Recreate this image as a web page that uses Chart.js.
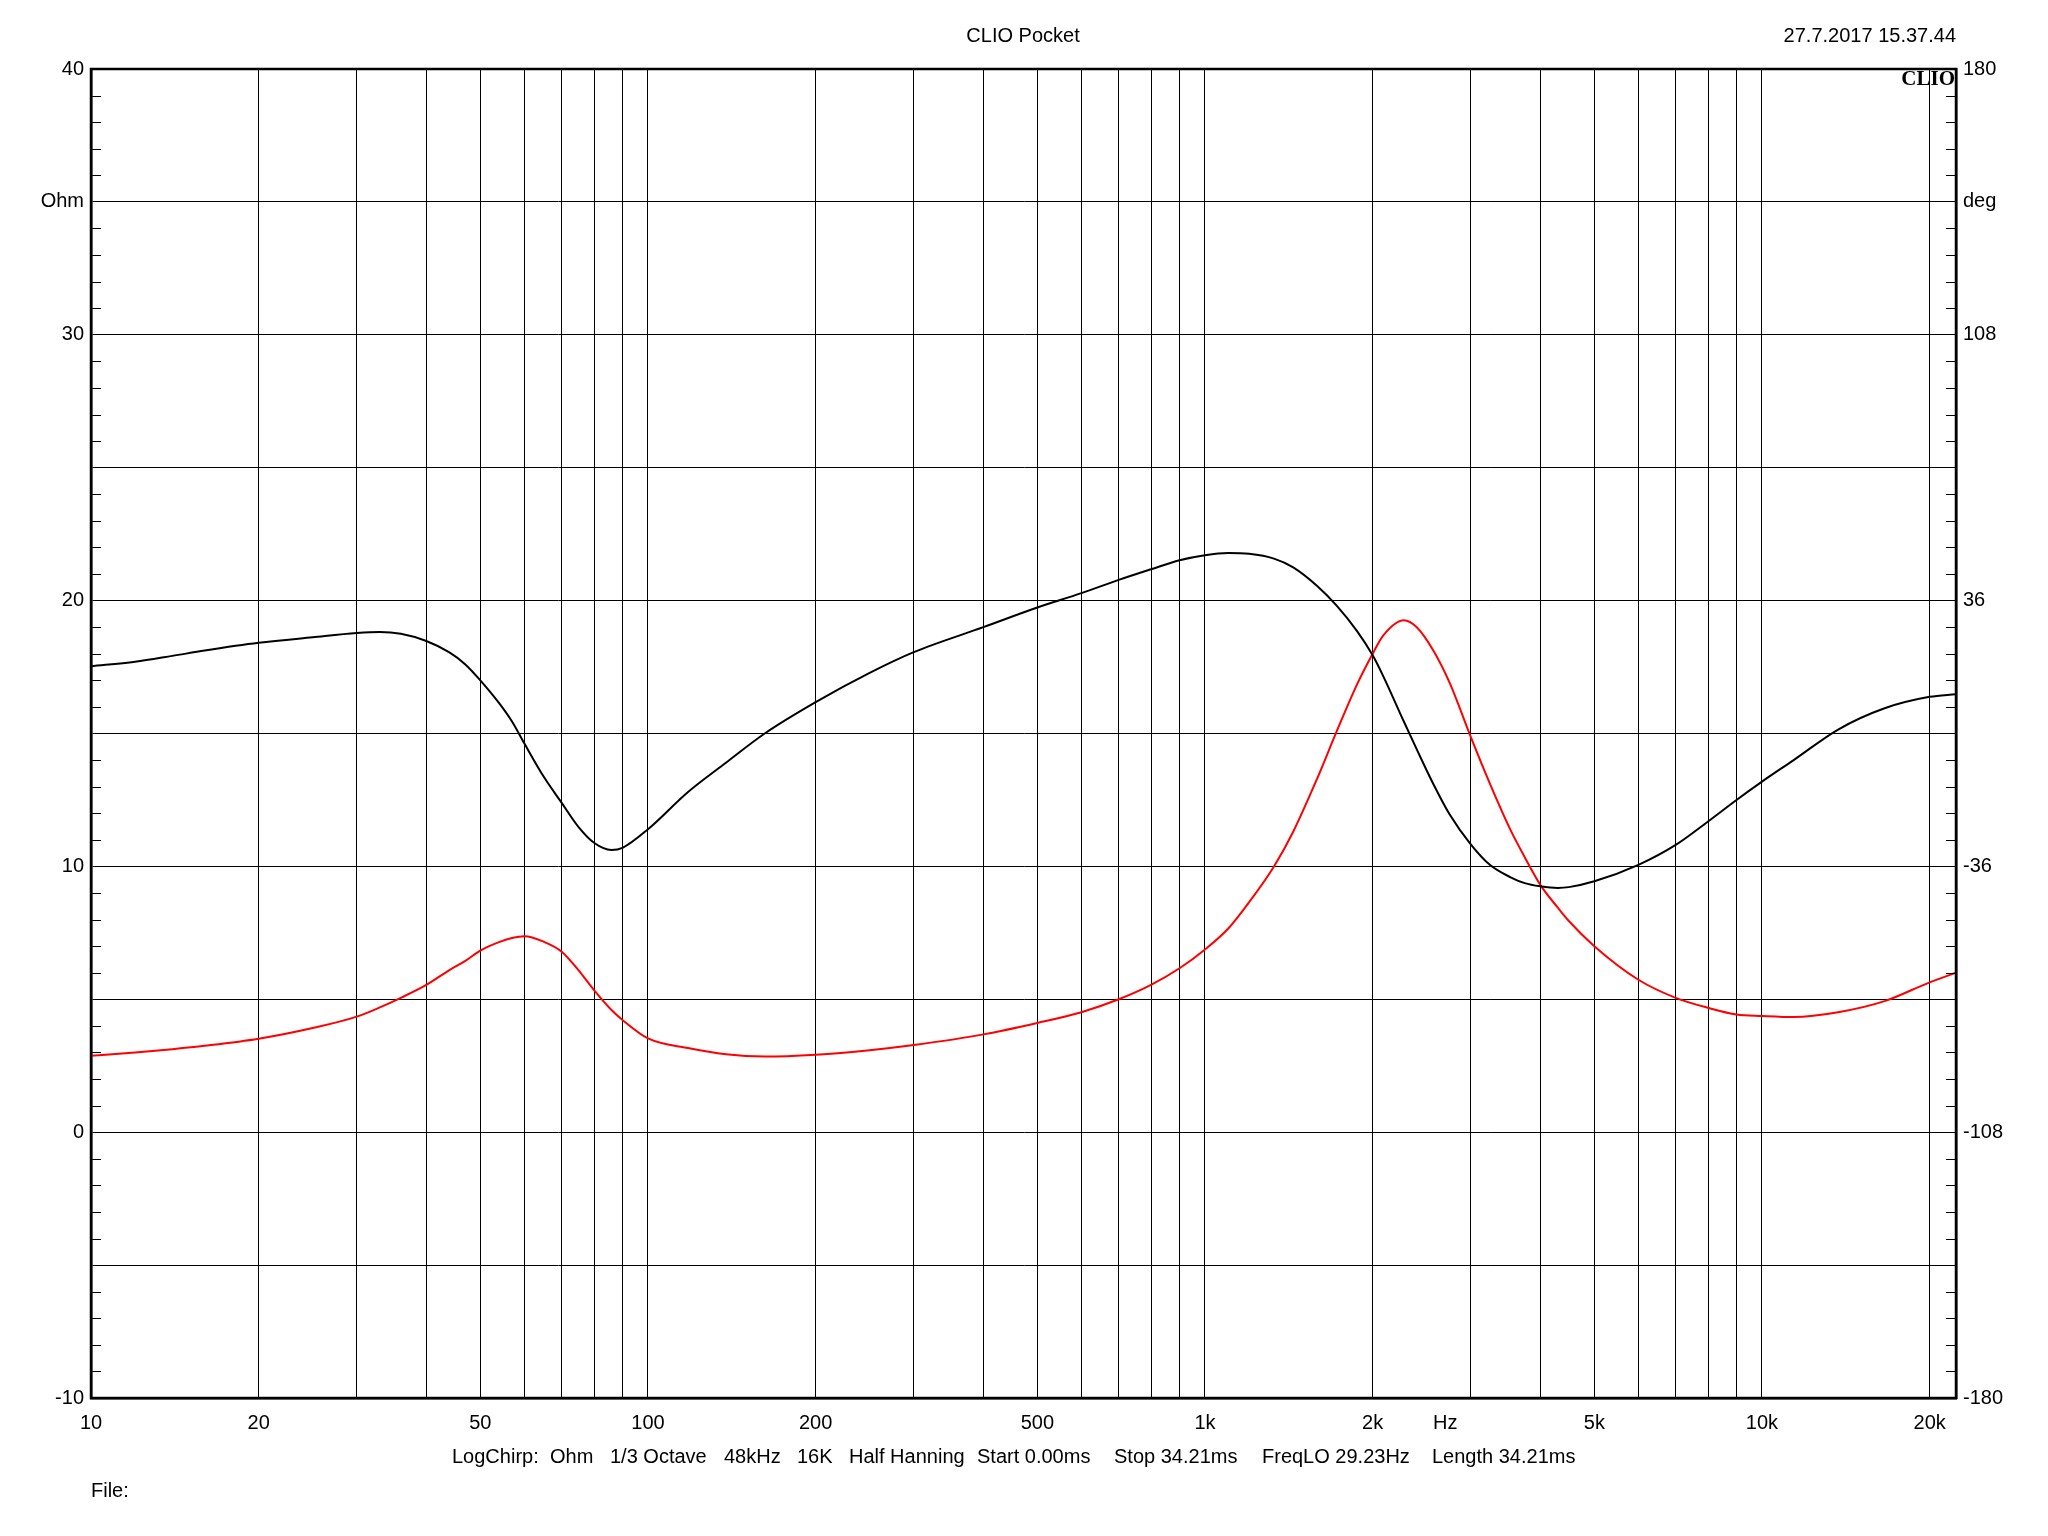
<!DOCTYPE html>
<html>
<head>
<meta charset="utf-8">
<script src="https://cdn.jsdelivr.net/npm/chart.js@4.4.1/dist/chart.umd.min.js"></script>
<style>
  body { margin: 0; background: #fff; }
  #wrap { width: 2048px; height: 1536px; position: relative; }
</style>
</head>
<body>
<div id="wrap"><canvas id="clioChart"></canvas></div>
<script>
// frequency points (Hz)
const freqs = [10, 12, 14, 16, 20, 25, 30, 33, 36, 40, 44, 47, 50, 54, 57, 60, 65, 70, 75, 80, 86, 90,
  100, 118, 138, 162, 200, 250, 300, 400, 500, 600, 700, 800, 900,
  1000, 1100, 1200, 1330, 1440, 1590, 1725, 1875, 2000, 2090, 2275, 2400, 2570, 2750, 3000, 3250,
  3530, 3750, 4000, 4300, 4500, 5000, 6000, 7000, 8000, 9000, 10000, 11400, 13700, 16600, 20000, 22300];

// black curve, Ohm (left axis)
const impedance = [17.53, 17.70, 17.92, 18.12, 18.41, 18.62, 18.78, 18.82, 18.75, 18.48, 18.05, 17.60,
  17.0, 16.15, 15.45, 14.62, 13.37, 12.39, 11.49, 10.89, 10.62, 10.70,
  11.40, 12.80, 13.90, 15.0, 16.18, 17.28, 18.06, 19.0, 19.74, 20.28, 20.78, 21.18, 21.52,
  21.71, 21.79, 21.76, 21.58, 21.25, 20.55, 19.8, 18.85, 17.94, 17.15, 15.45, 14.4, 13.1, 11.95, 10.83, 10.05,
  9.6, 9.37, 9.25, 9.19, 9.22, 9.44, 10.06, 10.81, 11.69, 12.50, 13.19, 14.0, 15.15, 15.95, 16.38, 16.48];

// red curve, deg (right axis)
const phase = [-87.3, -86.4, -85.5, -84.6, -82.7, -79.8, -76.7, -74.2, -71.6, -68.1, -64.1, -61.6,
  -58.8, -56.5, -55.4, -54.9, -56.4, -59.1, -64.1, -69.5, -74.9, -77.6,
  -82.6, -85.2, -86.9, -87.5, -87.0, -85.8, -84.4, -81.5, -78.4, -75.5, -72.0, -68.1, -63.6,
  -58.5, -52.9, -45.7, -36.0, -26.6, -12.2, 0.7, 13.3, 21.6, 26.6, 30.7, 28.8, 22.5, 13.7, -0.9, -13.7,
  -25.9, -33.5, -41.0, -47.2, -50.8, -57.6, -66.7, -71.6, -74.3, -76.1, -76.5, -76.8, -75.5, -72.5, -67.4, -64.8];

// axes
const freqGrid = [10, 20, 30, 40, 50, 60, 70, 80, 90, 100, 200, 300, 400, 500, 600, 700, 800, 900,
  1000, 2000, 3000, 4000, 5000, 6000, 7000, 8000, 9000, 10000, 20000];
const freqLabelValues = [10, 20, 50, 100, 200, 500, 1000, 2000, 2700, 5000, 10000, 20000];
const freqLabelTexts = ['10', '20', '50', '100', '200', '500', '1k', '2k', 'Hz', '5k', '10k', '20k'];
const ohmGrid = [-10, -5, 0, 5, 10, 15, 20, 25, 30, 35, 40];
const ohmLabels = {'-10': '-10', '0': '0', '10': '10', '20': '20', '30': '30', '35': 'Ohm', '40': '40'};
const degTicks = [-180, -108, -36, 36, 108, 144, 180];
const degLabels = {'144': 'deg'};

const titleText = 'CLIO Pocket';
const dateText = '27.7.2017 15.37.44';
const footerItems = ['LogChirp:', 'Ohm', '1/3 Octave', '48kHz', '16K', 'Half Hanning',
  'Start 0.00ms', 'Stop 34.21ms', 'FreqLO 29.23Hz', 'Length 34.21ms'];
const footerX = [452, 550, 610, 724, 797, 849, 977, 1114, 1262, 1432];

const FONT = '"Liberation Sans", Arial, sans-serif';

const decorPlugin = {
  id: 'decor',
  afterDraw(chart) {
    const ctx = chart.ctx;
    const a = chart.chartArea;
    const y = chart.scales.y;
    ctx.save();
    // minor ticks every 1 Ohm, inward on both sides
    ctx.strokeStyle = '#000';
    ctx.lineWidth = 1;
    for (let v = -10; v <= 40; v++) {
      if (v % 5 === 0) continue;
      const py = Math.round(y.getPixelForValue(v)) + 0.5;
      ctx.beginPath();
      ctx.moveTo(a.left, py); ctx.lineTo(a.left + 10, py);
      ctx.moveTo(a.right - 10, py); ctx.lineTo(a.right, py);
      ctx.stroke();
    }
    // frame
    ctx.lineWidth = 2.5;
    ctx.strokeRect(a.left, a.top, a.right - a.left, a.bottom - a.top);

    ctx.fillStyle = '#000';
    ctx.textBaseline = 'middle';
    ctx.font = '20px ' + FONT;
    ctx.textAlign = 'center';
    ctx.fillText(titleText, 1023, 36);
    ctx.textAlign = 'right';
    ctx.fillText(dateText, a.right, 36);
    ctx.textAlign = 'left';
    footerItems.forEach((t, i) => ctx.fillText(t, footerX[i], 1457));
    ctx.fillText('File:', 91, 1491);

    ctx.font = 'bold 21px "Liberation Serif", "Times New Roman", serif';
    ctx.textAlign = 'right';
    ctx.fillText('CLIO', a.right - 1, 80);
    ctx.restore();
  }
};

const ctx = document.getElementById('clioChart').getContext('2d');
const clioChart = new Chart(ctx, {
  type: 'line',
  data: {
    datasets: [{
      label: 'Ohm',
      data: freqs.map((f, i) => ({ x: f, y: impedance[i] })),
      borderColor: '#000000',
      borderWidth: 2,
      pointRadius: 0,
      cubicInterpolationMode: 'monotone',
      yAxisID: 'y'
    },
    {
      label: 'deg',
      data: freqs.map((f, i) => ({ x: f, y: phase[i] })),
      borderColor: '#ff0000',
      borderWidth: 2,
      pointRadius: 0,
      cubicInterpolationMode: 'monotone',
      yAxisID: 'y2'
    }]
  },
  options: {
    responsive: true,
    maintainAspectRatio: false,
    animation: false,
    layout: { padding: { top: 69, bottom: 98, left: 0, right: 0 } },
    plugins: {
      legend: { display: false },
      title: { display: false },
      tooltip: { enabled: false }
    },
    scales: {
      x: {
        type: 'logarithmic',
        min: 10,
        max: 22300,
        afterBuildTicks: (scale) => {
          const vals = Array.from(new Set(freqGrid.concat(freqLabelValues))).sort((p, q) => p - q);
          scale.ticks = vals.map(v => ({ value: v }));
        },
        afterFit: (scale) => { scale.height = 40; },
        grid: {
          color: (c) => freqGrid.includes(c.tick && c.tick.value) ? '#000' : 'rgba(0,0,0,0)',
          lineWidth: 1,
          drawTicks: false
        },
        border: { display: true, color: '#000', width: 2.5 },
        ticks: {
          autoSkip: false,
          maxRotation: 0,
          padding: 13,
          color: '#000',
          font: { family: FONT, size: 20 },
          callback: (v) => {
            const k = freqLabelValues.indexOf(v);
            return k >= 0 ? freqLabelTexts[k] : '';
          }
        }
      },
      y: {
        position: 'left',
        min: -10,
        max: 40,
        afterBuildTicks: (scale) => { scale.ticks = ohmGrid.map(v => ({ value: v })); },
        afterFit: (scale) => { scale.width = 91; },
        grid: { color: '#000', lineWidth: 1, drawTicks: false },
        border: { display: true, color: '#000', width: 2.5 },
        ticks: {
          autoSkip: false,
          padding: 7,
          color: '#000',
          font: { family: FONT, size: 20 },
          callback: (v) => ohmLabels[String(v)] || ''
        }
      },
      y2: {
        position: 'right',
        min: -180,
        max: 180,
        afterBuildTicks: (scale) => { scale.ticks = degTicks.map(v => ({ value: v })); },
        afterFit: (scale) => { scale.width = 92; },
        grid: { display: false, drawTicks: false },
        border: { display: true, color: '#000', width: 2.5 },
        ticks: {
          autoSkip: false,
          padding: 7,
          color: '#000',
          font: { family: FONT, size: 20 },
          callback: (v) => degLabels[String(v)] || String(v)
        }
      }
    }
  },
  plugins: [decorPlugin]
});
</script>
</body>
</html>
